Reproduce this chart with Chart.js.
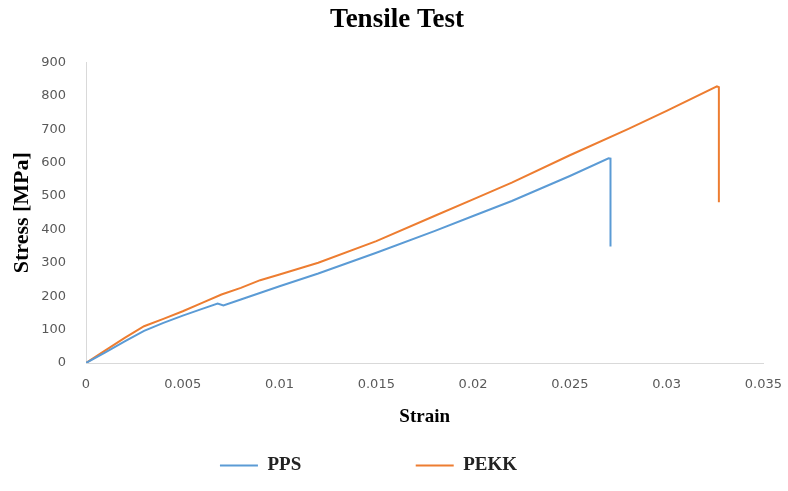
<!DOCTYPE html>
<html lang="en">
<head>
  <meta charset="UTF-8" />
  <title>Tensile Test</title>
  <script src="https://cdn.jsdelivr.net/npm/chart.js@4.4.1/dist/chart.umd.min.js"></script>
  <style>
    html, body { margin: 0; padding: 0; background: #fff; }
    #wrap { width: 788px; height: 491px; }
  </style>
</head>
<body>
  <div id="wrap"><canvas id="tensileChart" width="788" height="491"></canvas></div>

  <script>
    // values
    const strainPPS = [0, 0.001, 0.002, 0.003, 0.004, 0.005, 0.006, 0.0068, 0.0071, 0.008, 0.01, 0.012, 0.015, 0.018, 0.02, 0.022, 0.025, 0.027, 0.0271, 0.0271];
    const stressPPS = [0, 32, 65, 96, 120, 142, 162, 178, 172, 190, 230, 268, 330, 395, 440, 485, 560, 613, 612, 349];

    const strainPEKK = [0, 0.001, 0.002, 0.003, 0.004, 0.005, 0.006, 0.007, 0.008, 0.009, 0.01, 0.012, 0.015, 0.018, 0.02, 0.022, 0.025, 0.028, 0.03, 0.0326, 0.0327, 0.0327];
    const stressPEKK = [0, 38, 75, 110, 132, 155, 180, 205, 225, 248, 265, 300, 365, 440, 490, 540, 622, 700, 755, 828, 826, 481];

    const seriesNames = ['PPS', 'PEKK'];
    const seriesColors = ['#5b9bd5', '#ed7d31'];
    // trailing spaces widen the legend items so they sit apart like the original
    const legendGaps = ['\u2003\u2003\u2003\u2003\u2003\u2002', '\u2003\u2003\u2003'];

    const toPoints = (xs, ys) => xs.map((x, i) => ({ x: x, y: ys[i] }));

    const serif = "'Liberation Serif', 'Times New Roman', serif";
    const sans = "'DejaVu Sans', Verdana, sans-serif";

    new Chart(document.getElementById('tensileChart'), {
      type: 'scatter',
      data: {
        datasets: [
          { label: seriesNames[0], data: toPoints(strainPPS, stressPPS), borderColor: seriesColors[0], backgroundColor: seriesColors[0] },
          { label: seriesNames[1], data: toPoints(strainPEKK, stressPEKK), borderColor: seriesColors[1], backgroundColor: seriesColors[1] }
        ].map(d => Object.assign(d, { showLine: true, borderWidth: 2, pointRadius: 0, tension: 0 }))
      },
      options: {
        responsive: false,
        animation: false,
        layout: { padding: { left: 26, right: 20, top: 0, bottom: 6 } },
        plugins: {
          title: {
            display: true,
            text: 'Tensile Test',
            color: '#000',
            font: { family: serif, size: 27, weight: 'bold' },
            padding: { top: 4, bottom: 26 }
          },
          legend: {
            position: 'bottom',
            labels: {
              color: '#222',
              font: { family: serif, size: 19, weight: 'bold' },
              usePointStyle: true,
              pointStyle: 'line',
              pointStyleWidth: 38,
              padding: 10,
              generateLabels: chart => Chart.defaults.plugins.legend.labels.generateLabels(chart)
                .map((item, i) => Object.assign(item, { text: item.text + legendGaps[i], lineWidth: 2 }))
            }
          },
          tooltip: { enabled: false }
        },
        scales: {
          x: {
            type: 'linear',
            min: 0,
            max: 0.035,
            grid: { display: false },
            border: { display: true, color: '#d9d9d9', width: 1 },
            ticks: {
              stepSize: 0.005,
              color: '#595959',
              font: { family: sans, size: 13 },
              padding: 6,
              callback: v => String(Number(v.toFixed(3)))
            },
            title: {
              display: true,
              text: 'Strain',
              color: '#000',
              font: { family: serif, size: 19, weight: 'bold' },
              padding: { top: 0, bottom: 18 }
            },
            afterFit: s => { s.height = 83; }
          },
          y: {
            min: 0,
            max: 900,
            grid: { display: false },
            border: { display: true, color: '#d9d9d9', width: 1 },
            ticks: {
              stepSize: 100,
              color: '#595959',
              font: { family: sans, size: 13 },
              padding: 12
            },
            title: {
              display: true,
              text: 'Stress [MPa]',
              color: '#000',
              font: { family: serif, size: 22, weight: 'bold' },
              padding: { top: -17, bottom: 0 }
            },
            afterFit: s => { s.width = 60; }
          }
        }
      }
    });
  </script>
</body>
</html>
